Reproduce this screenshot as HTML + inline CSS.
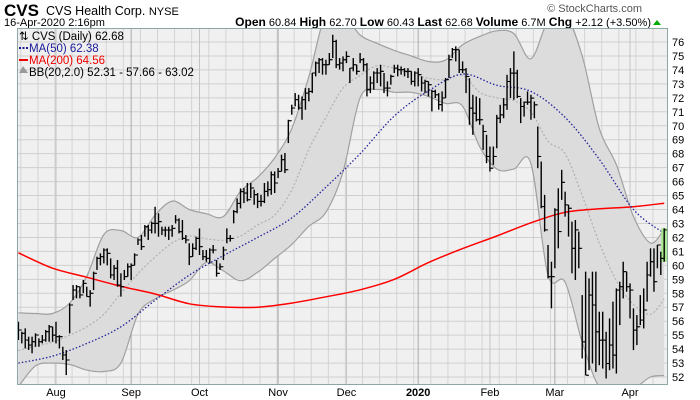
<!DOCTYPE html>
<html><head><meta charset="utf-8">
<style>
body{margin:0;background:#fff;width:700px;height:400px;overflow:hidden;font-family:"Liberation Sans",sans-serif}
svg{display:block}
</style></head>
<body>
<svg id="chart" width="700" height="400">
<text x="4" y="16" font-size="17" font-weight="bold">CVS</text>
<text x="46" y="15" font-size="12.5">CVS Health Corp. <tspan font-size="11">NYSE</tspan></text>
<text x="4" y="26" font-size="11">16-Apr-2020 2:16pm</text>
<text x="642" y="12" font-size="11" fill="#555" text-anchor="end">© StockCharts.com</text>
<text x="651" y="26" font-size="11" text-anchor="end"><tspan font-weight="bold" font-size="12">Open</tspan> 60.84 <tspan font-weight="bold" font-size="12">High</tspan> 62.70 <tspan font-weight="bold" font-size="12">Low</tspan> 60.43 <tspan font-weight="bold" font-size="12">Last</tspan> 62.68 <tspan font-weight="bold" font-size="12">Volume</tspan> 6.7M <tspan font-weight="bold" font-size="12">Chg</tspan> +2.12 (+3.50%)</text>
<polygon points="653,25 661,25 657,20" fill="#0a0"/>
<defs><clipPath id="pc"><rect x="17" y="28" width="651" height="357"/></clipPath></defs>
<g id="plot"></g>
</svg>
<script>
const highs=[55.96,55.25,55.49,54.89,54.89,55.13,54.77,55.01,55.37,55.73,55.6,55.96,55.0,54.17,53.93,57.28,58.59,58.59,58.47,58.95,58.47,58.23,59.55,60.62,60.86,61.22,61.22,60.5,60.03,60.38,59.43,59.67,60.14,60.14,60.86,61.93,62.17,62.89,62.89,63.13,64.2,63.73,62.77,62.77,62.77,62.89,63.6,63.37,63.25,62.17,61.58,61.58,62.05,62.65,61.1,61.1,61.22,61.46,60.38,60.14,61.34,62.65,62.17,63.96,64.8,65.51,
65.54,65.9,65.9,65.42,65.18,65.06,65.9,66.02,66.73,66.73,66.97,67.93,68.05,70.43,71.51,72.34,72.22,72.1,72.7,72.7,73.78,74.6,74.85,74.85,74.73,75.21,76.52,76.16,74.85,74.97,75.33,74.13,74.85,74.37,75.21,74.85,74.49,73.54,73.9,74.13,74.37,73.78,73.18,73.66,74.37,74.37,74.25,74.13,74.13,73.9,73.9,74.13,73.54,73.3,73.18,72.58,72.58,72.34,72.46,73.42,75.09,75.57,75.69,75.45,
74.61,74.13,73.41,72.22,72.1,71.98,70.07,69.35,68.51,68.51,70.78,71.5,71.98,73.65,74.13,75.33,74.01,71.98,71.74,72.46,72.22,71.74,69.95,67.44,65.05,61.46,60.26,64.09,65.52,66.84,65.28,64.33,63.13,63.25,62.42,57.87,59.55,59.07,59.55,59.55,56.68,56.68,55.24,56.2,57.4,58.35,58.83,60.26,59.55,58.71,56.92,56.44,57.87,58.35,60.26,61.22,61.22,61.46,60.98,62.66];
const lows=[54.65,54.41,54.05,53.94,53.7,54.17,54.17,54.41,54.53,54.53,54.53,54.41,54.05,53.22,52.14,55.13,57.52,57.64,57.64,58.0,57.76,57.04,58.23,59.67,60.0,60.14,60.0,59.07,58.95,58.47,57.76,58.95,59.19,58.95,60.0,61.46,61.1,62.05,61.82,62.29,62.29,62.05,62.17,62.05,61.82,62.05,63.0,62.29,61.82,61.58,60.02,60.62,61.1,60.74,60.38,60.26,60.14,60.86,59.19,59.67,60.38,61.58,61.7,63.01,63.73,64.08,
64.46,64.58,64.82,64.34,64.1,64.22,64.46,64.94,65.06,65.18,66.25,66.73,66.61,68.76,70.79,71.39,71.15,70.43,71.15,71.75,72.34,73.54,73.78,73.66,73.66,74.37,74.85,74.13,74.02,73.9,74.49,73.06,73.9,73.66,74.49,73.9,72.1,72.34,72.58,73.06,72.82,72.34,72.1,72.94,73.78,73.54,73.66,73.54,73.42,72.94,72.82,72.82,72.46,72.34,72.1,71.03,71.99,71.15,71.03,71.99,73.42,74.85,74.61,73.78,
73.77,72.34,70.07,69.35,70.31,70.07,68.27,67.32,66.72,67.2,68.39,70.19,70.54,71.14,71.98,71.86,71.98,70.19,70.66,71.5,70.43,70.54,66.96,64.09,62.42,59.07,56.92,59.79,61.22,64.69,63.49,62.06,59.43,58.95,59.79,53.33,52.13,52.49,52.97,52.37,52.85,52.61,51.9,52.49,52.61,52.25,55.72,57.63,58.11,56.2,53.93,54.29,55.72,55.48,57.4,59.19,58.11,59.79,59.31,60.26];
const closes=[55.37,55.13,54.65,54.29,54.53,55.01,54.53,54.65,55.25,55.6,55.0,54.89,54.89,53.58,53.22,57.16,58.23,58.47,57.88,58.71,57.76,58.0,59.43,60.5,60.62,61.1,60.86,59.31,59.79,58.59,58.47,59.19,59.9,60.0,60.74,61.82,61.34,62.77,62.53,63.01,63.01,63.13,62.53,62.53,62.53,62.65,63.25,62.41,61.93,61.82,60.62,61.22,61.93,61.34,60.62,60.5,61.1,61.1,59.43,59.9,61.1,61.93,61.93,63.85,64.44,65.28,
65.18,64.7,65.54,65.06,64.58,64.58,65.3,65.42,66.49,65.9,66.73,67.57,66.85,70.36,71.27,71.87,71.27,71.87,72.34,72.46,73.78,74.49,74.73,74.37,74.37,74.73,76.04,74.37,74.49,74.73,74.97,74.13,74.37,73.9,74.73,74.37,72.58,73.06,73.78,73.78,73.9,72.7,72.7,73.54,74.13,74.02,74.02,73.9,73.9,73.18,73.78,73.66,73.06,73.18,72.94,72.46,72.22,71.51,71.99,73.3,74.73,75.45,75.45,74.02,
74.01,73.53,71.26,70.9,70.43,70.43,69.59,67.8,66.96,67.8,70.54,70.78,71.5,73.17,73.77,73.77,72.1,71.38,71.69,71.69,71.98,71.5,67.8,64.21,62.54,59.19,59.19,63.97,62.42,65.95,64.33,64.09,61.22,62.54,61.22,54.52,52.13,57.87,57.16,55.24,54.64,54.64,52.97,54.29,53.57,58.23,58.47,59.55,58.47,58.23,55.36,55.6,56.08,56.8,59.31,60.26,58.83,61.46,60.5,62.54];
const firstOpen=55.5;
const overlayIdx=[0,5,10,15,20,25,30,35,40,45,50,55,60,65,70,75,80,85,90,95,100,105,110,115,120,125,130,135,140,145,150,155,160,165,170,175,180,185,189];
const bbUpper=[56.6,56.55,56.55,57.3,59.2,62.2,62.5,62.0,63.6,64.6,64.0,63.7,63.5,65.3,66.3,67.7,69.8,73.5,78,78,76.5,75.9,75.4,75.0,74.6,74.7,75.8,76.4,76.8,76.6,74.8,77.5,78,75.0,69.8,67.2,63.5,61.6,62.6];
const bbMid=[53.9,54.2,54.5,55.0,55.6,56.5,58.0,59.4,60.6,61.6,62.1,61.9,61.8,62.1,62.9,63.6,65.4,68.3,70.6,72.7,73.6,74.3,74.1,73.7,73.4,73.3,73.6,72.4,72.0,71.8,71.0,68.9,68.0,65.0,61.6,58.9,57.2,56.5,57.6];
const bbLower=[51.3,52.8,53.0,52.9,52.5,52.4,53.0,56.5,57.6,58.2,58.9,60.2,59.6,58.9,59.5,60.5,61.5,62.8,63.8,66.7,72.0,72.6,72.4,72.4,72.1,71.6,71.4,68.5,66.9,66.9,67.3,59.3,58.8,54.5,51.3,51.3,51.2,52.0,52.1];
const maIdx=[0,10,20,30,40,50,60,70,80,90,100,110,120,130,140,150,160,170,180,189];
const ma50=[53.0,53.5,54.4,55.6,57.5,59.3,60.7,62.0,63.4,65.6,68.0,70.7,72.5,73.7,72.9,72.46,70.6,67.6,64.0,62.3];
const ma200=[60.9,59.8,59.15,58.5,57.95,57.25,57.02,57.0,57.3,57.75,58.25,59.0,60.2,61.2,62.1,63.05,63.8,64.05,64.2,64.45];
const yTicks=[52,53,54,55,56,57,58,59,60,61,62,63,64,65,66,67,68,69,70,71,72,73,74,75,76];
const monthLabels=["Aug","Sep","Oct","Nov","Dec","2020","Feb","Mar","Apr"];
const monthStart=[11,33,53,76,96,117,138,157,179];

const NS="http://www.w3.org/2000/svg";
const X0=17,X1=668,Y0=28,Y1=385;
const xS=i=>18.4+i*3.417;
const yS=p=>42+(76-p)*13.96;
const plot=document.getElementById('plot');
function mk(t,a,parent){const e=document.createElementNS(NS,t);for(const k in a)e.setAttribute(k,a[k]);(parent||plot).appendChild(e);return e;}
function smooth(idx,vals,move){
  const P=idx.map((i,k)=>[xS(i),yS(vals[k])]);
  let d=(move?'M':'L')+P[0][0].toFixed(1)+','+P[0][1].toFixed(1);
  for(let k=0;k<P.length-1;k++){
    const p0=P[Math.max(0,k-1)],p1=P[k],p2=P[k+1],p3=P[Math.min(P.length-1,k+2)];
    const c1=[p1[0]+(p2[0]-p0[0])/6,p1[1]+(p2[1]-p0[1])/6];
    const c2=[p2[0]-(p3[0]-p1[0])/6,p2[1]-(p3[1]-p1[1])/6];
    d+='C'+c1.map(v=>v.toFixed(1)).join(',')+' '+c2.map(v=>v.toFixed(1)).join(',')+' '+p2.map(v=>v.toFixed(1)).join(',');
  }
  return d;
}

const bg=mk('rect',{x:X0,y:Y0,width:X1-X0,height:Y1-Y0,fill:'#f0f0f0'});


for(let i=monthStart[0]%5;i<closes.length;i+=5){
  const g=mk('line',{x1:xS(i)-1,x2:xS(i)-1,y1:Y0,y2:Y1,stroke:'#d4d4d4','stroke-width':1});
  
  
}
yTicks.forEach(v=>{
  const g=mk('line',{x1:X0,x2:X1,y1:yS(v),y2:yS(v),stroke:'#cfcfcf','stroke-width':1});
  
  
  const t=mk('text',{x:X1+4,y:yS(v)+4,'font-size':11,fill:'#000'});
  t.textContent=v;
  
  
});
monthLabels.forEach((m,k)=>{
  const x=xS(monthStart[k]);
  const g=mk('line',{x1:x,x2:x,y1:Y0,y2:Y1,stroke:k%2==1||k==5?'#aaa':'#c4c4c4','stroke-width':1});
  
  
  const t=mk('text',{x:x,y:396,'font-size':11,'text-anchor':'middle','font-weight':m=='2020'?'bold':'normal'});
  t.textContent=m;
  
  
});
const clip=mk('g',{'clip-path':'url(#pc)'});
const rIdx=overlayIdx.slice().reverse(),rLow=bbLower.slice().reverse();
const band=mk('path',{d:smooth(overlayIdx,bbUpper,true)+smooth(rIdx,rLow,false)+'Z',fill:'#dcdcdc',stroke:'none'},clip);


const bu=mk('path',{d:smooth(overlayIdx,bbUpper,true),fill:'none',stroke:'#a0a0a0','stroke-width':1.2},clip);


const bl=mk('path',{d:smooth(overlayIdx,bbLower,true),fill:'none',stroke:'#a0a0a0','stroke-width':1.2},clip);


const bm=mk('path',{d:smooth(overlayIdx,bbMid,true),fill:'none',stroke:'#b0b0b0','stroke-width':1.2,'stroke-dasharray':'2,2'},clip);


const m2=mk('path',{d:smooth(maIdx,ma200,true),fill:'none',stroke:'#f00','stroke-width':1.5},clip);


const m5=mk('path',{d:smooth(maIdx,ma50,true),fill:'none',stroke:'#22229a','stroke-width':1.3,'stroke-dasharray':'1.5,2'},clip);


const li=closes.length-1;
const hl=mk('rect',{x:xS(li)-3,y:yS(highs[li]),width:6,height:yS(lows[li])-yS(highs[li]),fill:'#a8e890'},clip);


closes.forEach((c,i)=>{
  const x=xS(i),o=i?closes[i-1]:firstOpen;
  const g=mk('g',{},clip);
  
  
  mk('line',{x1:x,x2:x,y1:yS(highs[i]),y2:yS(lows[i]),stroke:'#000','stroke-width':1.4},g);
  mk('line',{x1:x-2.5,x2:x,y1:yS(o),y2:yS(o),stroke:'#000','stroke-width':1},g);
  mk('line',{x1:x,x2:x+2.5,y1:yS(c),y2:yS(c),stroke:'#000','stroke-width':1},g);
});
const br=mk('rect',{x:X0+0.5,y:Y0+0.5,width:X1-X0-1,height:Y1-Y0-1,fill:'none',stroke:'#8fa6a6','stroke-width':1});


const lg=mk('g',{'font-size':11.5});


const lt=[['⇅ CVS (Daily) 62.68','#000'],['MA(50) 62.38','#1a1a9a'],['MA(200) 64.56','#e00'],['BB(20,2.0) 52.31 - 57.66 - 63.02','#000']];
lt.forEach((e,k)=>{
  const t=mk('text',{x:k==0?19:29,y:40+k*12,fill:e[1]},lg);
  t.textContent=e[0];
  
  
});
mk('line',{x1:19,x2:28,y1:48,y2:48,stroke:'#1a1a9a','stroke-width':2,'stroke-dasharray':'2,1.5'},lg);
mk('line',{x1:19,x2:28,y1:60,y2:60,stroke:'#e00','stroke-width':2},lg);
mk('polygon',{points:'19,73 23,66 28,73',fill:'#999'},lg);
</script>
</body></html>
